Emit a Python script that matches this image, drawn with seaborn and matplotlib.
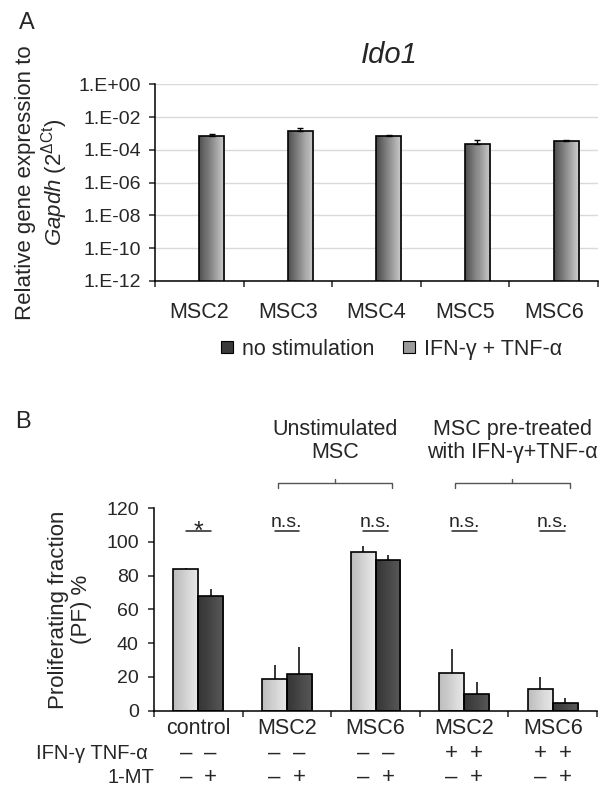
import numpy as np
import pandas as pd
import matplotlib
matplotlib.use("Agg")
import matplotlib.pyplot as plt
import matplotlib.transforms as mtransforms
from matplotlib.colors import to_rgb
from matplotlib.lines import Line2D
from matplotlib.ticker import FixedLocator, NullLocator, FuncFormatter
import seaborn as sns

# --- Panel A: Ido1 expression (relative to Gapdh) ---
cells_a = ["MSC2", "MSC3", "MSC4", "MSC5", "MSC6"]
conditions_a = ["no stimulation", "IFN-γ + TNF-α"]
ido1_nostim = [0.0, 0.0, 0.0, 0.0, 0.0]          # not detected
ido1_stim = [7.4e-4, 1.5e-3, 7.4e-4, 2.3e-4, 3.6e-4]
ido1_stim_err = [1.2e-4, 6.5e-4, 1.0e-4, 1.5e-4, 3.0e-5]

# --- Panel B: proliferating fraction ---
groups_b = ["control", "MSC2 unstim", "MSC6 unstim", "MSC2 pre", "MSC6 pre"]
group_ticklabels_b = ["control", "MSC2", "MSC6", "MSC2", "MSC6"]
treatments_b = ["without 1-MT", "with 1-MT"]
pf_no_mt = [83.6, 18.8, 93.8, 22.3, 13.0]
pf_no_mt_err = [0.8, 8.3, 3.7, 14.5, 6.7]
pf_mt = [68.0, 21.9, 89.1, 9.9, 4.3]
pf_mt_err = [4.1, 16.0, 3.3, 7.2, 3.0]
sig_labels = ["*", "n.s.", "n.s.", "n.s.", "n.s."]
# one sign per bar: (group, without 1-MT), (group, with 1-MT), ...
ifn_tnf_signs = ["–", "–", "–", "–", "–", "–", "+", "+", "+", "+"]
one_mt_signs = ["–", "+", "–", "+", "–", "+", "–", "+", "–", "+"]
bracket_labels = ["Unstimulated\nMSC", "MSC pre-treated\nwith IFN-γ+TNF-α"]
bracket_groups = [(1, 2), (3, 4)]


def shade_bars(ax, bars, left, right, n=24):
    """Fake Excel-like horizontal gradient: thin strips under each bar outline."""
    c0, c1 = np.array(to_rgb(left)), np.array(to_rgb(right))
    for p in bars:
        h = p.get_height()
        if not h > 0:
            continue
        x0, w, y0 = p.get_x(), p.get_width(), p.get_y()
        sw = w / n
        for i in range(n):
            col = c0 + (c1 - c0) * (i / (n - 1))
            ax.bar(x0 + i * sw, h, width=sw, bottom=y0, align="edge",
                   color=col, edgecolor=col, linewidth=0.6, zorder=1.5)
        p.set_facecolor("none")
        p.set_zorder(2)


def style_axis(ax):
    for side in ["top", "right"]:
        ax.spines[side].set_visible(False)
    for side in ["left", "bottom"]:
        ax.spines[side].set_linewidth(1.1)
        ax.spines[side].set_color("black")
    ax.set_xlim(-0.5, 4.5)
    ax.xaxis.set_minor_locator(FixedLocator(np.arange(-0.5, 5.0, 1.0)))
    ax.tick_params(axis="x", which="major", length=0)
    ax.tick_params(axis="x", which="minor", length=4.5, width=1.1, direction="out")
    ax.tick_params(axis="y", which="major", length=4, width=1.1, direction="out")
    ax.set_xlabel("")


sns.set_style("ticks")
plt.rcParams["font.family"] = ["Liberation Sans", "DejaVu Sans"]
plt.rcParams["mathtext.fontset"] = "custom"
plt.rcParams["mathtext.rm"] = "Liberation Sans"
plt.rcParams["mathtext.it"] = "Liberation Sans:italic"
plt.rcParams["mathtext.bf"] = "Liberation Sans:bold"

fig = plt.figure(figsize=(6.03, 7.87), dpi=100)
ax_a = fig.add_axes([0.257, 0.643, 0.7347, 0.25])
ax_b = fig.add_axes([0.2554, 0.097, 0.7347, 0.2575])

# ---------------- Panel A ----------------
df_a = pd.DataFrame({
    "cell": cells_a * 2,
    "condition": [conditions_a[0]] * len(cells_a) + [conditions_a[1]] * len(cells_a),
    "expr": ido1_nostim + ido1_stim,
})
sns.barplot(data=df_a, x="cell", y="expr", hue="condition", hue_order=conditions_a,
            palette=["#3a3a3a", "#9a9a9a"], width=0.56, errorbar=None,
            edgecolor="black", linewidth=1.2, legend=False, ax=ax_a)
ax_a.set_yscale("log")
stim_bars = list(ax_a.containers[1])
shade_bars(ax_a, stim_bars, "#4f4f4f", "#c8c8c8")
centers = [p.get_x() + p.get_width() / 2 for p in stim_bars]
ax_a.errorbar(centers, ido1_stim, yerr=[np.zeros(len(ido1_stim)), ido1_stim_err],
              fmt="none", ecolor="black", elinewidth=1.0, capsize=2.5, capthick=1.0, zorder=3)

ax_a.set_ylim(1e-12, 1)
ax_a.yaxis.set_major_locator(FixedLocator(10.0 ** np.arange(-12, 1, 2)))
ax_a.yaxis.set_minor_locator(NullLocator())
ax_a.yaxis.set_major_formatter(FuncFormatter(lambda v, _: f"1.E{int(round(np.log10(v))):+03d}"))
ax_a.set_axisbelow(True)
ax_a.yaxis.grid(True, color="#d9d9d9", linewidth=1.0)
style_axis(ax_a)
ax_a.tick_params(axis="y", labelsize=14, pad=6)
ax_a.tick_params(axis="x", which="major", labelsize=15.5, pad=15)
ax_a.set_ylabel("Relative gene expression to\n$\\mathit{Gapdh}$ (2$^{\\Delta\\mathrm{Ct}}$)",
                fontsize=16, linespacing=1.15)
ax_a.yaxis.label.set_va("center")
ax_a.yaxis.set_label_coords(-0.254, 0.5)
ax_a.set_title("Ido1", fontstyle="italic", fontsize=21, x=0.53, pad=15)

legend_handles = [
    Line2D([], [], marker="s", linestyle="none", markersize=8, markerfacecolor="#3a3a3a",
           markeredgecolor="black", markeredgewidth=0.8, label=conditions_a[0]),
    Line2D([], [], marker="s", linestyle="none", markersize=8, markerfacecolor="#9a9a9a",
           markeredgecolor="black", markeredgewidth=0.8, label=conditions_a[1]),
]
fig.legend(handles=legend_handles, loc="center", bbox_to_anchor=(0.647, 0.556), ncol=2,
           frameon=False, fontsize=15.5, handlelength=0.8, handletextpad=0.3,
           columnspacing=1.2)

# ---------------- Panel B ----------------
df_b = pd.DataFrame({
    "group": groups_b * 2,
    "treatment": [treatments_b[0]] * len(groups_b) + [treatments_b[1]] * len(groups_b),
    "pf": pf_no_mt + pf_mt,
})
sns.barplot(data=df_b, x="group", y="pf", hue="treatment", hue_order=treatments_b,
            order=groups_b, palette=["#d0d0d0", "#454545"], width=0.56, errorbar=None,
            edgecolor="black", linewidth=1.2, legend=False, ax=ax_b)
light_bars = list(ax_b.containers[0])
dark_bars = list(ax_b.containers[1])
shade_bars(ax_b, light_bars, "#bcbcbc", "#e8e8e8")
shade_bars(ax_b, dark_bars, "#343434", "#575757")

light_c = [p.get_x() + p.get_width() / 2 for p in light_bars]
dark_c = [p.get_x() + p.get_width() / 2 for p in dark_bars]
ax_b.errorbar(light_c, pf_no_mt, yerr=[np.zeros(len(pf_no_mt)), pf_no_mt_err],
              fmt="none", ecolor="black", elinewidth=1.1, capsize=0, zorder=3)
ax_b.errorbar(dark_c, pf_mt, yerr=[np.zeros(len(pf_mt)), pf_mt_err],
              fmt="none", ecolor="black", elinewidth=1.1, capsize=0, zorder=3)

ax_b.set_ylim(0, 120)
ax_b.set_yticks(np.arange(0, 121, 20))
style_axis(ax_b)
ax_b.set_xticks(range(len(groups_b)))
ax_b.set_xticklabels(group_ticklabels_b)
ax_b.tick_params(axis="y", labelsize=14, pad=7)
ax_b.tick_params(axis="x", which="major", labelsize=15.5, pad=5)
ax_b.set_ylabel("Proliferating fraction\n(PF) %", fontsize=16, linespacing=1.15)
ax_b.yaxis.label.set_va("center")
ax_b.yaxis.set_label_coords(-0.19, 0.5)

# significance marks above each pair
for i, lab in enumerate(sig_labels):
    ax_b.plot([light_c[i], dark_c[i]], [106.4, 106.4], color="#222222", lw=1.1, clip_on=False)
    mid = (light_c[i] + dark_c[i]) / 2
    if lab == "*":
        ax_b.text(mid, 101.5, lab, ha="center", va="baseline", fontsize=18)
    else:
        ax_b.text(mid, 108.8, lab, ha="center", va="baseline", fontsize=14)

# group brackets and their labels
for lab, (g0, g1) in zip(bracket_labels, bracket_groups):
    x0, x1 = g0 - 0.10, g1 + 0.19
    xm = (x0 + x1) / 2
    ax_b.plot([x0, x0, x1, x1], [132.0, 135.0, 135.0, 132.0], color="#555555", lw=1.0,
              clip_on=False)
    ax_b.plot([xm, xm], [135.0, 137.4], color="#555555", lw=1.0, clip_on=False)
    line1, line2 = lab.split("\n")
    ax_b.text(xm, 163.5, line1, ha="center", va="baseline", fontsize=15.5, clip_on=False)
    ax_b.text(xm, 149.5, line2, ha="center", va="baseline", fontsize=15.5, clip_on=False)

# treatment rows under the axis
row_tr = mtransforms.blended_transform_factory(ax_b.transData, ax_b.transAxes)
bar_c = [c for pair in zip(light_c, dark_c) for c in pair]
for xc, s1, s2 in zip(bar_c, ifn_tnf_signs, one_mt_signs):
    ax_b.text(xc, -0.2115, s1, transform=row_tr, ha="center", va="center", fontsize=16)
    ax_b.text(xc, -0.3276, s2, transform=row_tr, ha="center", va="center", fontsize=16)
ax_b.text(-0.0135, -0.2115, "IFN-γ TNF-α", transform=ax_b.transAxes, ha="right",
          va="center", fontsize=14.5)
ax_b.text(0.0, -0.3276, "1-MT", transform=ax_b.transAxes, ha="right", va="center",
          fontsize=14.5)

# panel letters
fig.text(27 / 603, 1 - 23 / 787, "A", fontsize=17, ha="center", va="center")
fig.text(23 / 603, 1 - 422 / 787, "B", fontsize=17, ha="center", va="center")

fig.savefig("out.png", dpi=100)
